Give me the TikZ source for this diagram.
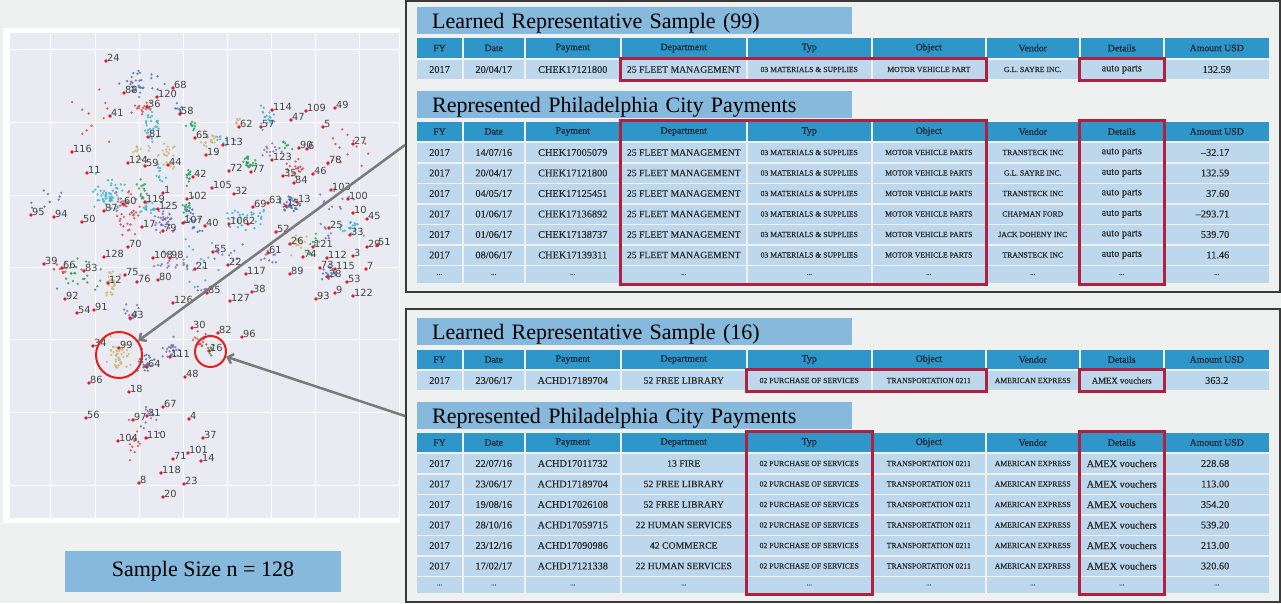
\documentclass[tikz,border=0pt]{standalone}
\usepackage{fontspec}
\setmainfont{Liberation Serif}
\newfontfamily\plotfont{DejaVu Sans}
\newfontfamily\cellfont[BoldFont={Liberation Serif}, BoldFeatures={FakeBold=0.35}]{Liberation Serif}
\usetikzlibrary{arrows.meta,fit}

\definecolor{pagebg}{HTML}{EFF0F0}
\definecolor{plotbg}{HTML}{EAEAF2}
\definecolor{barblue}{HTML}{86B9DC}
\definecolor{hdrblue}{HTML}{2E96C8}
\definecolor{rowblue}{HTML}{BDD7EC}
\definecolor{hdrtext}{HTML}{1C2533}
\definecolor{celltext}{HTML}{2A2A2A}
\definecolor{hlred}{HTML}{B1213F}
\definecolor{frame}{HTML}{3A3A3A}
\definecolor{arrowgray}{HTML}{7A7A7A}
\definecolor{dblue}{HTML}{4C72B0}
\definecolor{dtan}{HTML}{CCB974}
\definecolor{dgreen}{HTML}{2CA05A}
\definecolor{dred}{HTML}{D05050}
\definecolor{dpurp}{HTML}{8172B2}
\definecolor{dcyan}{HTML}{3FB4CC}
\definecolor{lblred}{HTML}{E41A1C}
\definecolor{lbltext}{HTML}{444444}
\definecolor{ringred}{HTML}{E3201C}

% cell text helpers
\newcommand\smf{\fontsize{7.7}{9}\selectfont}
\newcommand\mats{\smf 03 MATERIALS \& SUPPLIES}
\newcommand\mvp{\smf MOTOR VEHICLE PARTS}
\newcommand\posv{\smf 02 PURCHASE OF SERVICES}
\newcommand\trn{\smf TRANSPORTATION 0211}
\newcommand\amx{\smf AMERICAN EXPRESS}
\newcommand\vend[1]{{\smf #1}}
\newcommand\dep[1]{{\fontsize{9.7}{11}\selectfont #1}}
\newcommand\fleet{\dep{25 FLEET MANAGEMENT}}
\newcommand\rd{{\fontsize{7}{8}\selectfont ...}}
\newcommand\amt[1]{\makebox[25pt][r]{#1}}

% one table row: name, top, bottom, cell style, cell texts
\newcommand\tabrow[5]{%
  \foreach \txt [count=\i] in {#5} {%
    \pgfmathsetmacro\xl{{417,463.5,525.5,621.5,747.5,872.5,986.5,1080.5,1164.5}[\i-1]}%
    \pgfmathsetmacro\xr{{462,524,620,746,871,985,1079,1163,1269}[\i-1]}%
    \pgfmathsetmacro\cw{\xr-\xl}%
    \pgfmathsetmacro\ch{#3-#2}%
    \node[#4, minimum width=\cw pt, minimum height=\ch pt] (#1-\i)
      at ({(\xl+\xr)/2},{(#2+#3)/2}) {\txt};
  }%
}

\begin{document}
\begin{tikzpicture}[x=1pt,y=-1pt,
  hcell/.style={fill=hdrblue, text=hdrtext, inner sep=0pt, font=\cellfont\bfseries\fontsize{9.8}{11}\selectfont},
  dcell/.style={fill=rowblue, text=celltext, inner sep=0pt, font=\cellfont\bfseries\fontsize{10.3}{11}\selectfont},
  titlebar/.style={fill=barblue, inner xsep=15pt, inner ysep=0pt, text width=405pt, align=left,
    minimum height=27pt, text depth=0pt, font=\fontsize{22}{24}\selectfont},
  hlbox/.style={draw=hlred, line width=3pt, inner sep=1pt},
  panel/.style={draw=frame, line width=1.8pt},
  ring/.style={draw=ringred, line width=2pt, circle, inner sep=0pt},
  pointer/.style={draw=arrowgray, line width=2.5pt, -{Straight Barb[length=5pt,width=10pt]}},
  lbl/.style={anchor=base west, inner sep=0pt, text=lbltext, font=\plotfont\fontsize{9.8}{10}\selectfont},
  grid line/.style={draw=white, line width=1pt}]

\useasboundingbox (0,0) rectangle (1281,603);
\fill[pagebg] (0,0) rectangle (1281,603);

% ---------------- embedding plot ----------------
\fill[white] (3,28) rectangle (400,523);
\fill[plotbg] (10,33) rectangle (399,518);
\foreach \gx in {50,95,139,183,227,271,315,359}
  \draw[grid line] (\gx,33) -- (\gx,518);
\foreach \gy in {49,122,195,267,339,412,485}
  \draw[grid line] (10,\gy) -- (399,\gy);

% point clouds of the clusters: x/y/spread x/spread y/count/colour
\pgfmathsetseed{4711}
\foreach \cx/\cy/\sx/\sy/\n/\col in {
  140/85/22/12/30/dblue, 145/108/12/6/18/dred, 150/125/8/15/30/dcyan,
  140/150/14/10/15/dtan, 168/155/10/15/25/dtan, 160/175/6/10/10/dcyan,
  193/125/6/6/10/dgreen, 210/140/10/8/20/dtan, 238/120/5/5/6/dtan,
  222/140/14/5/10/dcyan, 268/118/8/12/20/dcyan, 270/150/10/8/12/dpurp,
  250/162/6/8/20/dgreen, 295/170/10/10/20/dred, 285/145/10/8/8/dgreen,
  110/195/18/18/60/dcyan, 128/212/12/22/40/dred, 143/192/6/12/15/dgreen,
  147/208/10/6/20/dcyan, 165/222/10/12/35/dpurp, 192/218/10/14/25/dblue,
  188/175/6/10/12/dgreen, 188/205/6/8/10/dgreen, 290/205/10/8/30/dblue,
  240/220/14/10/20/dcyan, 260/215/8/10/12/dcyan, 298/245/10/10/18/dtan,
  313/245/5/10/10/dgreen, 352/230/12/8/20/dcyan, 330/272/8/10/20/dblue,
  325/235/8/10/8/dpurp, 80/275/25/15/25/dgreen, 112/283/8/12/25/dtan,
  60/268/8/6/12/dred, 132/312/8/8/15/dpurp, 118/352/12/16/45/dtan,
  145/360/8/12/30/dblue, 172/348/10/12/25/dpurp, 200/340/10/8/15/dred,
  210/350/4/5/8/dgreen, 150/420/12/20/15/dpurp, 135/440/8/25/15/dred,
  50/200/20/12/10/dblue, 230/255/20/10/12/dpurp, 175/265/20/12/20/dpurp,
  205/290/8/6/10/dpurp, 270/255/10/8/10/dpurp, 180/110/8/6/10/dblue,
  340/150/30/30/15/dred, 200/260/20/30/15/dcyan, 100/120/30/40/12/dred,
  330/205/25/20/12/dpurp}{
  \foreach \k in {1,...,\n}{
    \pgfmathsetmacro\px{\cx+\sx*(rand+rand)*0.6}
    \pgfmathsetmacro\py{\cy+\sy*(rand+rand)*0.6}
    \fill[\col, opacity=.85] (\px,\py) circle[radius=1.3];
  }
}

% labelled representatives
\foreach \x/\y/\l in {
  106/61/24, 124/93/88, 173/88/68, 157/97/120, 147/107/36, 110/116/41,
  180/114/58, 148/137/81, 195/138/65, 223/145/113, 239/127/62, 261/127/57,
  272/110/114, 306/111/109, 335/108/49, 291/120/47, 323/127/5, 72/152/116,
  353/144/27, 206/155/19, 299/148/90, 307/149/6, 272/160/123, 328/163/78,
  128/163/124, 145/166/59, 168/165/44, 87/173/11, 229/171/72, 251/172/77,
  193/177/42, 283/176/35, 294/183/84, 313/174/46, 331/190/103, 163/193/1,
  212/188/105, 234/194/32, 187/199/102, 348/199/100, 145/202/119, 123/204/60,
  158/209/125, 268/203/63, 253/207/69, 286/206/15, 297/202/13, 104/211/87,
  31/215/95, 54/217/94, 82/222/50, 353/213/10, 367/219/45, 183/223/107,
  205/226/40, 229/224/106, 248/224/2, 142/227/17, 163/231/79, 329/228/25,
  276/232/52, 350/235/33, 290/244/26, 313/247/121, 367/247/29, 377/245/51,
  128/247/70, 213/252/55, 268/253/61, 303/257/74, 327/258/112, 353/256/3,
  104/257/128, 153/258/108, 170/258/98, 44/264/39, 62/268/66, 84/271/83,
  228/265/22, 195/269/21, 246/274/117, 290/274/89, 320/268/73, 335/269/115,
  366/269/7, 328/277/28, 347/282/53, 125/275/75, 137/282/76, 158/280/80,
  108/283/12, 207/293/85, 252/292/38, 230/301/127, 173/303/126, 316/299/93,
  335/293/9, 353/296/122, 65/299/92, 77/313/54, 94/310/91, 130/318/43,
  192/328/30, 218/333/82, 242/337/96, 93/346/34, 119/348/99, 209/351/16,
  170/357/111, 147/367/64, 185/377/48, 89/383/86, 129/392/18, 163/407/67,
  86/418/56, 147/416/31, 133/420/97, 189/419/4, 118/441/104, 146/438/110,
  203/438/37, 188/453/101, 201/461/14, 173/459/71, 161/473/118, 139/483/8,
  184/484/23, 163/497/20}{
  \fill[lblred] (\x,\y) circle[radius=1.8];
  \node[lbl] (p\l) at ([xshift=1pt]\x,\y) {\l};
}

% highlighted clusters
\node[ring, minimum size=46pt] (c99) at (119,355) {};
\node[ring, minimum size=31pt] (c16) at (210.5,351.5) {};

% ---------------- panels ----------------
\draw[panel] (406,1) rectangle (1280,292);
\draw[panel] (406,309) rectangle (1280,602);
\coordinate (from99) at (405,145);
\coordinate (from16) at (405,416);
\draw[pointer] (from99) -- (c99);
\draw[pointer] (from16) -- (c16);

% Learned representative sample 99
\node[titlebar, anchor=north west] (tA) at (417,7) {Learned Representative Sample (99)};
\tabrow{Ah}{38}{58}{hcell}{FY,Date,Payment,Department,Typ,Object,Vendor,Details,Amount USD}
\tabrow{A1}{60}{79}{dcell}{2017,20/04/17,CHEK17121800,\fleet,\mats,{\smf MOTOR VEHICLE PART},\vend{G.L. SAYRE INC.},auto parts,132.59}

% payments represented by 99
\node[titlebar, anchor=north west] (tB) at (417,91) {Represented Philadelphia City Payments};
\tabrow{Bh}{122}{141}{hcell}{FY,Date,Payment,Department,Typ,Object,Vendor,Details,Amount USD}
\tabrow{B1}{143}{162}{dcell}{2017,14/07/16,CHEK17005079,\fleet,\mats,\mvp,\vend{TRANSTECK INC},auto parts,\amt{–32.17}}
\tabrow{B2}{163.5}{182.5}{dcell}{2017,20/04/17,CHEK17121800,\fleet,\mats,\mvp,\vend{G.L. SAYRE INC.},auto parts,\amt{132.59}}
\tabrow{B3}{184}{203}{dcell}{2017,04/05/17,CHEK17125451,\fleet,\mats,\mvp,\vend{TRANSTECK INC},auto parts,\amt{37.60}}
\tabrow{B4}{204.5}{223.5}{dcell}{2017,01/06/17,CHEK17136892,\fleet,\mats,\mvp,\vend{CHAPMAN FORD},auto parts,\amt{–293.71}}
\tabrow{B5}{225}{244}{dcell}{2017,01/06/17,CHEK17138737,\fleet,\mats,\mvp,\vend{JACK DOHENY INC},auto parts,\amt{539.70}}
\tabrow{B6}{245.5}{264.5}{dcell}{2017,08/06/17,CHEK17139311,\fleet,\mats,\mvp,\vend{TRANSTECK INC},auto parts,\amt{11.46}}
\tabrow{B7}{266}{283}{dcell}{\rd,\rd,\rd,\rd,\rd,\rd,\rd,\rd,\rd}

% Learned representative sample 16
\node[titlebar, anchor=north west] (tC) at (417,318) {Learned Representative Sample (16)};
\tabrow{Ch}{350}{369}{hcell}{FY,Date,Payment,Department,Typ,Object,Vendor,Details,Amount USD}
\tabrow{C1}{371}{390}{dcell}{2017,23/06/17,ACHD17189704,\dep{52 FREE LIBRARY},\posv,\trn,\amx,{\fontsize{8.8}{10}\selectfont AMEX vouchers},363.2}

% payments represented by 16
\node[titlebar, anchor=north west] (tD) at (417,402) {Represented Philadelphia City Payments};
\tabrow{Dh}{433}{452}{hcell}{FY,Date,Payment,Department,Typ,Object,Vendor,Details,Amount USD}
\tabrow{D1}{454}{473}{dcell}{2017,22/07/16,ACHD17011732,\dep{13 FIRE},\posv,\trn,\amx,AMEX vouchers,\amt{228.68}}
\tabrow{D2}{474.5}{493.5}{dcell}{2017,23/06/17,ACHD17189704,\dep{52 FREE LIBRARY},\posv,\trn,\amx,AMEX vouchers,\amt{113.00}}
\tabrow{D3}{495}{514}{dcell}{2017,19/08/16,ACHD17026108,\dep{52 FREE LIBRARY},\posv,\trn,\amx,AMEX vouchers,\amt{354.20}}
\tabrow{D4}{515.5}{534.5}{dcell}{2017,28/10/16,ACHD17059715,\dep{22 HUMAN SERVICES},\posv,\trn,\amx,AMEX vouchers,\amt{539.20}}
\tabrow{D5}{536}{555}{dcell}{2017,23/12/16,ACHD17090986,\dep{42 COMMERCE},\posv,\trn,\amx,AMEX vouchers,\amt{213.00}}
\tabrow{D6}{556.5}{575.5}{dcell}{2017,17/02/17,ACHD17121338,\dep{22 HUMAN SERVICES},\posv,\trn,\amx,AMEX vouchers,\amt{320.60}}
\tabrow{D7}{577}{593}{dcell}{\rd,\rd,\rd,\rd,\rd,\rd,\rd,\rd,\rd}

% highlighted columns
\node[hlbox, fit=(A1-4)(A1-6)] (hA) {};
\node[hlbox, fit=(A1-8)] (hAd) {};
\node[hlbox, fit=(Bh-4)(B7-6)] (hB) {};
\node[hlbox, fit=(Bh-8)(B7-8)] (hBd) {};
\node[hlbox, fit=(C1-5)(C1-6)] (hC) {};
\node[hlbox, fit=(C1-8)] (hCd) {};
\node[hlbox, fit=(Dh-5)(D7-5)] (hD) {};
\node[hlbox, fit=(Dh-8)(D7-8)] (hDd) {};

% sample size caption
\node[fill=barblue, minimum width=276pt, minimum height=41pt, inner sep=0pt,
  font=\fontsize{22}{24}\selectfont] (ss) at (203,571.5) {Sample Size n = 128};
\end{tikzpicture}
\end{document}
